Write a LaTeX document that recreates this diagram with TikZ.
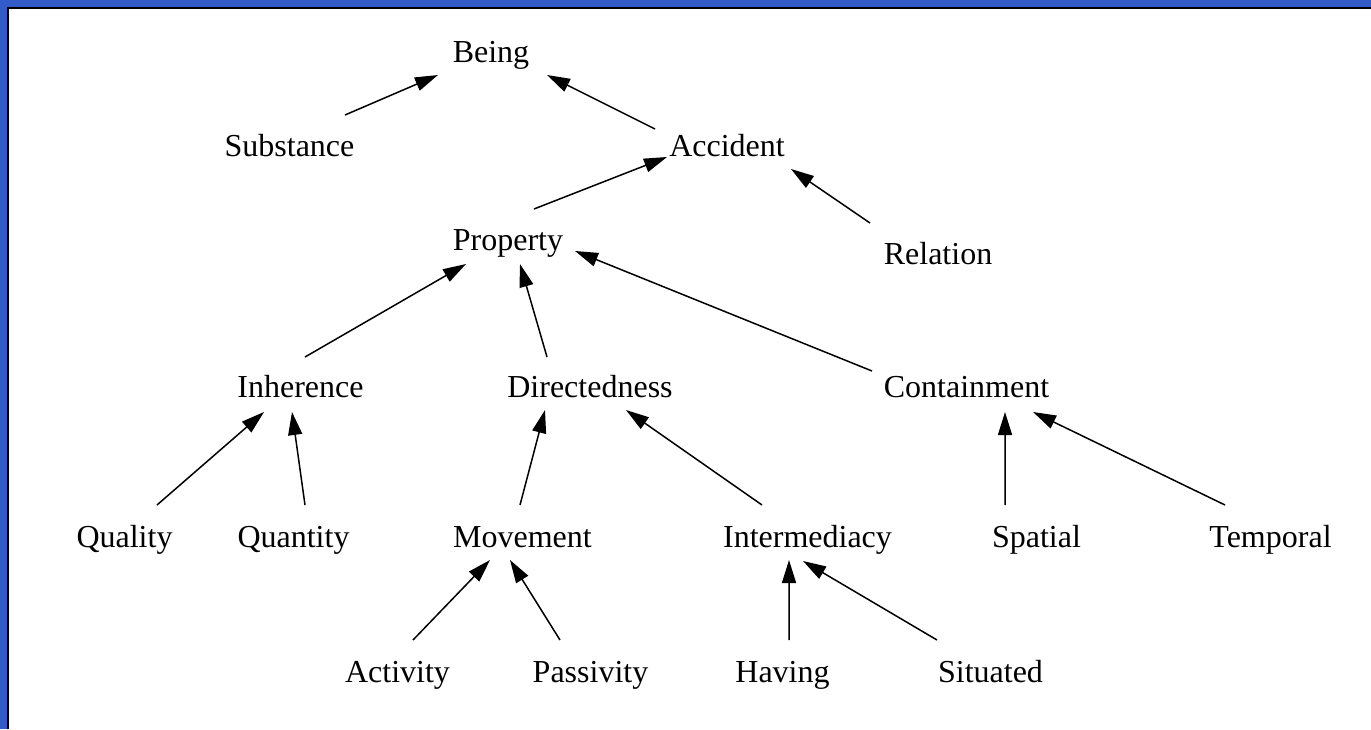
\documentclass[tikz,border=0pt]{standalone}
\usepackage{fontspec}
\setmainfont{Liberation Serif}
\usetikzlibrary{arrows.meta}
\definecolor{frameblue}{RGB}{50,90,200}
\tikzset{
  lbl/.style={inner sep=0pt, anchor=base, font=\fontsize{32bp}{38bp}\selectfont},
  edge/.style={line width=1.5bp, -{Triangle[length=23bp,width=14bp]}}
}
\begin{document}
\begin{tikzpicture}[x=1bp,y=-1bp]
\useasboundingbox (0,0) rectangle (1371,729);
\fill[frameblue] (0,0) rectangle (1371,729);
\fill[white] (8,8) rectangle (1371,729);
\draw[line width=1.6bp] (8,729) -- (8,7.8) -- (1371,7.8);
% nodes
\node[lbl] (being) at (491,63) {Being};
\node[lbl] (substance) at (289.5,156) {Substance};
\node[lbl] (accident) at (727,156) {Accident};
\node[lbl] (property) at (508,250) {Property};
\node[lbl] (relation) at (938,264) {Relation};
\node[lbl] (inherence) at (300.5,397) {Inherence};
\node[lbl] (directedness) at (590,397) {Directedness};
\node[lbl] (containment) at (966.5,397) {Containment};
\node[lbl] (quality) at (124.5,547) {Quality};
\node[lbl] (quantity) at (293.5,547) {Quantity};
\node[lbl] (movement) at (522.5,547) {Movement};
\node[lbl] (intermediacy) at (807.5,547) {Intermediacy};
\node[lbl] (spatial) at (1036.5,547) {Spatial};
\node[lbl] (temporal) at (1270.5,547) {Temporal};
\node[lbl] (activity) at (397.5,682) {Activity};
\node[lbl] (passivity) at (590.5,682) {Passivity};
\node[lbl] (having) at (782.5,682) {Having};
\node[lbl] (situated) at (990.5,682) {Situated};
% edges
\draw[edge] ([shift={(55.5,-41)}]substance.base) -- ([shift={(-53,12)}]being.base);
\draw[edge] ([shift={(-72,-27)}]accident.base) -- ([shift={(56,12)}]being.base);
\draw[edge] ([shift={(26,-41)}]property.base) -- ([shift={(-60,1)}]accident.base);
\draw[edge] ([shift={(-68,-41)}]relation.base) -- ([shift={(64,13)}]accident.base);
\draw[edge] ([shift={(4.5,-40)}]inherence.base) -- ([shift={(-42,14)}]property.base);
\draw[edge] ([shift={(-43,-40)}]directedness.base) -- ([shift={(12,14)}]property.base);
\draw[edge] ([shift={(-94.5,-26)}]containment.base) -- ([shift={(67,1)}]property.base);
\draw[edge] ([shift={(32.5,-42)}]quality.base) -- ([shift={(-36.5,15)}]inherence.base);
\draw[edge] ([shift={(11.5,-42)}]quantity.base) -- ([shift={(-8.5,15)}]inherence.base);
\draw[edge] ([shift={(-2.5,-42)}]movement.base) -- ([shift={(-45,13)}]directedness.base);
\draw[edge] ([shift={(-45.5,-42)}]intermediacy.base) -- ([shift={(36,13)}]directedness.base);
\draw[edge] ([shift={(-31.5,-42)}]spatial.base) -- ([shift={(38.5,15)}]containment.base);
\draw[edge] ([shift={(-45.5,-42)}]temporal.base) -- ([shift={(66.5,15)}]containment.base);
\draw[edge] ([shift={(15.5,-42)}]activity.base) -- ([shift={(-32.5,13)}]movement.base);
\draw[edge] ([shift={(-30.5,-42)}]passivity.base) -- ([shift={(-12.5,13)}]movement.base);
\draw[edge] ([shift={(6.5,-42)}]having.base) -- ([shift={(-18.5,13)}]intermediacy.base);
\draw[edge] ([shift={(-53.5,-42)}]situated.base) -- ([shift={(-4.5,14)}]intermediacy.base);
\end{tikzpicture}
\end{document}
